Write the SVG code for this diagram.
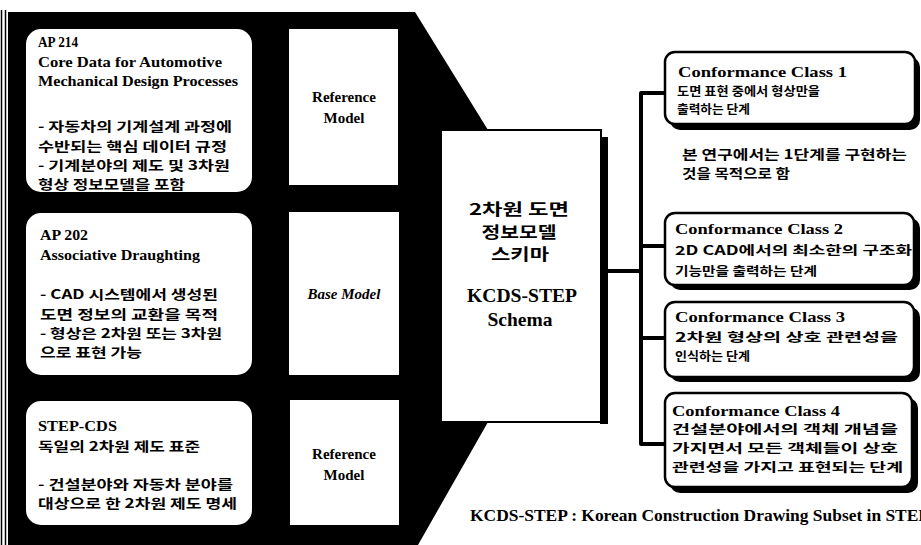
<svg xmlns="http://www.w3.org/2000/svg" width="921" height="545" viewBox="0 0 921 545">
<style>
.lat{font-family:"Liberation Serif","Noto Sans CJK KR",serif;font-weight:bold;fill:#000}
.kr{font-family:"Noto Sans CJK KR","Liberation Sans",sans-serif;font-weight:bold;fill:#000}
.box{fill:#fff;stroke:#000;stroke-width:2}
.rbox{fill:#fff;stroke:#000;stroke-width:2.5}
.sh{fill:#000}
.con{fill:none;stroke:#000;stroke-width:4;stroke-linejoin:round}
</style>
<rect width="921" height="545" fill="#fff"/>
<line x1="1.5" y1="10" x2="1.5" y2="545" stroke="#000" stroke-width="1.5"/>
<line x1="5.5" y1="10" x2="5.5" y2="545" stroke="#000" stroke-width="1.5"/>
<polygon points="8,12 415,12 488,130 443,130 443,422 488,422 418,545 8,545" fill="#000"/>

<g id="ap214">
<rect class="box" x="25" y="28" width="228" height="165" rx="16"/>
<text class="lat" font-size="14" x="38" y="47" textLength="40" lengthAdjust="spacingAndGlyphs">AP 214</text>
<text class="lat" font-size="14" x="38" y="67" textLength="184" lengthAdjust="spacingAndGlyphs">Core Data for Automotive</text>
<text class="lat" font-size="14" x="38" y="86" textLength="200" lengthAdjust="spacingAndGlyphs">Mechanical Design Processes</text>
<text class="kr" font-size="13" x="38" y="131" textLength="194" lengthAdjust="spacingAndGlyphs">- 자동차의 기계설계 과정에</text>
<text class="kr" font-size="13" x="38" y="150.5" textLength="189" lengthAdjust="spacingAndGlyphs">수반되는 핵심 데이터 규정</text>
<text class="kr" font-size="13" x="38" y="170" textLength="192" lengthAdjust="spacingAndGlyphs">- 기계분야의 제도 및 3차원</text>
<text class="kr" font-size="13" x="38" y="189" textLength="147" lengthAdjust="spacingAndGlyphs">형상 정보모델을 포함</text>
</g>
<g id="ref1">
<rect class="box" x="288" y="28" width="111" height="158"/>
<text class="lat" font-size="15" x="344" y="102" text-anchor="middle">Reference</text>
<text class="lat" font-size="15" x="344" y="123" text-anchor="middle">Model</text>
</g>

<g id="ap202">
<rect class="box" x="25" y="212" width="228" height="164" rx="16"/>
<text class="lat" font-size="14" x="40" y="240" textLength="48" lengthAdjust="spacingAndGlyphs">AP 202</text>
<text class="lat" font-size="14" x="40" y="260" textLength="160" lengthAdjust="spacingAndGlyphs">Associative Draughting</text>
<text class="kr" font-size="13" x="40" y="299" textLength="178" lengthAdjust="spacingAndGlyphs">- CAD 시스템에서 생성된</text>
<text class="kr" font-size="13" x="40" y="319" textLength="178" lengthAdjust="spacingAndGlyphs">도면 정보의 교환을 목적</text>
<text class="kr" font-size="13" x="40" y="338" textLength="182" lengthAdjust="spacingAndGlyphs">- 형상은 2차원 또는 3차원</text>
<text class="kr" font-size="13" x="40" y="357" textLength="102" lengthAdjust="spacingAndGlyphs">으로 표현 가능</text>
</g>
<g id="base">
<rect class="box" x="288" y="211" width="112" height="165"/>
<text class="lat" font-size="15" font-style="italic" x="344" y="299" text-anchor="middle">Base Model</text>
</g>

<g id="stepcds">
<rect class="box" x="25" y="400" width="228" height="126" rx="16"/>
<text class="lat" font-size="14" x="38" y="431" textLength="79" lengthAdjust="spacingAndGlyphs">STEP-CDS</text>
<text class="kr" font-size="13" x="38" y="451" textLength="162" lengthAdjust="spacingAndGlyphs">독일의 2차원 제도 표준</text>
<text class="kr" font-size="13" x="38" y="489" textLength="195" lengthAdjust="spacingAndGlyphs">- 건설분야와 자동차 분야를</text>
<text class="kr" font-size="13" x="38" y="508" textLength="199" lengthAdjust="spacingAndGlyphs">대상으로 한 2차원 제도 명세</text>
</g>
<g id="ref3">
<rect class="box" x="289" y="399" width="111" height="127"/>
<text class="lat" font-size="15" x="344" y="459" text-anchor="middle">Reference</text>
<text class="lat" font-size="15" x="344" y="480" text-anchor="middle">Model</text>
</g>

<g id="schema">
<rect class="sh" x="600" y="137" width="8" height="287"/>
<rect class="box" x="441" y="130" width="160" height="292"/>
<text class="kr" font-size="15.5" x="519" y="215" text-anchor="middle" textLength="100" lengthAdjust="spacingAndGlyphs">2차원 도면</text>
<text class="kr" font-size="15.5" x="519" y="238" text-anchor="middle" textLength="75" lengthAdjust="spacingAndGlyphs">정보모델</text>
<text class="kr" font-size="15.5" x="520" y="260" text-anchor="middle" textLength="58" lengthAdjust="spacingAndGlyphs">스키마</text>
<text class="lat" font-size="19" x="522" y="302" text-anchor="middle" textLength="110" lengthAdjust="spacingAndGlyphs">KCDS-STEP</text>
<text class="lat" font-size="19" x="520" y="326" text-anchor="middle" textLength="65" lengthAdjust="spacingAndGlyphs">Schema</text>
</g>

<g id="connectors">
<path class="con" d="M608,271 H641"/>
<path class="con" d="M665,93 H641 V444 H665"/>
<path class="con" d="M641,246 H665"/>
<path class="con" d="M641,338 H665"/>
</g>

<g id="cc1">
<rect class="sh" x="670" y="57" width="250" height="73" rx="10"/>
<rect class="rbox" x="665" y="52" width="250" height="72" rx="10"/>
<text class="lat" font-size="15" x="678" y="77" textLength="169" lengthAdjust="spacingAndGlyphs">Conformance Class 1</text>
<text class="kr" font-size="12.5" x="677" y="96" textLength="143" lengthAdjust="spacingAndGlyphs">도면 표현 중에서 형상만을</text>
<text class="kr" font-size="12.5" x="677" y="114" textLength="73" lengthAdjust="spacingAndGlyphs">출력하는 단계</text>
</g>
<g id="note">
<text class="kr" font-size="13" x="682" y="159" textLength="225" lengthAdjust="spacingAndGlyphs">본 연구에서는 1단계를 구현하는</text>
<text class="kr" font-size="13" x="682" y="178" textLength="108" lengthAdjust="spacingAndGlyphs">것을 목적으로 함</text>
</g>
<g id="cc2">
<rect class="sh" x="670" y="218" width="250" height="72" rx="10"/>
<rect class="rbox" x="665" y="213" width="249" height="72" rx="10"/>
<text class="lat" font-size="15" x="675" y="234" textLength="168" lengthAdjust="spacingAndGlyphs">Conformance Class 2</text>
<text class="kr" font-size="12.5" x="675" y="255" textLength="237" lengthAdjust="spacingAndGlyphs">2D CAD에서의 최소한의 구조화</text>
<text class="kr" font-size="12.5" x="675" y="276" textLength="142" lengthAdjust="spacingAndGlyphs">기능만을 출력하는 단계</text>
</g>
<g id="cc3">
<rect class="sh" x="670" y="307" width="250" height="75" rx="10"/>
<rect class="rbox" x="665" y="302" width="249" height="75" rx="10"/>
<text class="lat" font-size="15" x="675" y="322" textLength="170" lengthAdjust="spacingAndGlyphs">Conformance Class 3</text>
<text class="kr" font-size="12.5" x="675" y="342" textLength="223" lengthAdjust="spacingAndGlyphs">2차원 형상의 상호 관련성을</text>
<text class="kr" font-size="12.5" x="675" y="361" textLength="75" lengthAdjust="spacingAndGlyphs">인식하는 단계</text>
</g>
<g id="cc4">
<rect class="sh" x="670" y="398" width="248" height="95" rx="10"/>
<rect class="rbox" x="665" y="393" width="247" height="94" rx="10"/>
<text class="lat" font-size="15" x="672" y="416" textLength="168" lengthAdjust="spacingAndGlyphs">Conformance Class 4</text>
<text class="kr" font-size="12.5" x="672" y="434" textLength="226" lengthAdjust="spacingAndGlyphs">건설분야에서의 객체 개념을</text>
<text class="kr" font-size="12.5" x="672" y="453" textLength="226" lengthAdjust="spacingAndGlyphs">가지면서 모든 객체들이 상호</text>
<text class="kr" font-size="12.5" x="672" y="472" textLength="231" lengthAdjust="spacingAndGlyphs">관련성을 가지고 표현되는 단계</text>
</g>
<g id="caption">
<text class="lat" font-size="16" x="470" y="521" textLength="459" lengthAdjust="spacingAndGlyphs">KCDS-STEP : Korean Construction Drawing Subset in STEP</text>
</g>
</svg>
